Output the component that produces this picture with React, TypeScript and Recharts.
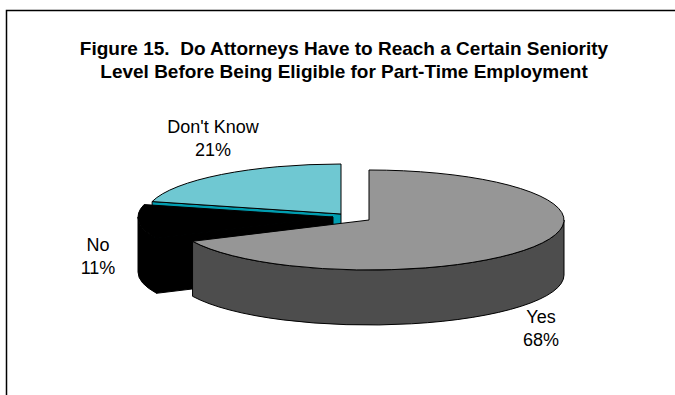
import React from "react";
import { PieChart, Pie } from "recharts";

const categories = ["Don't Know", "No", "Yes"];
const values = [21, 11, 68];
const topColors = ["#6FC8D2", "#000000", "#969696"];
const sideColors = ["#009DB0", "#000000", "#4D4D4D"];
const titleLines = [
  "Figure 15.  Do Attorneys Have to Reach a Certain Seniority",
  "Level Before Being Eligible for Part-Time Employment",
];

const data = categories.map((name, i) => ({ name, value: values[i], fill: topColors[i], side: sideColors[i] }));

// Pie tilt and explosion, presentation only
const SQUASH = 50 / 195;
const DEPTH = 55;
const EXPLODE = [
  { dx: -9, dy: -2 },
  { dx: -17, dy: 1 },
  { dx: 19, dy: 4 },
];
const LABEL_POS = [
  { x: 213, y: 133 },
  { x: 98, y: 251 },
  { x: 541, y: 323 },
];

const rad = (a: number) => (a * Math.PI) / 180;

function Slice3D(props: any) {
  const { cx, cy, outerRadius: r, startAngle, endAngle, fill, side, index } = props;
  const ox = cx + EXPLODE[index].dx;
  const oy = cy + EXPLODE[index].dy;
  const ry = r * SQUASH;
  const pt = (a: number, d = 0) => [ox + r * Math.cos(rad(a)), oy - ry * Math.sin(rad(a)) + d];
  const f = (p: number[]) => `${p[0].toFixed(2)} ${p[1].toFixed(2)}`;
  const arc = (a: number, b: number, d = 0) => {
    const large = Math.abs(b - a) > 180 ? 1 : 0;
    const sweep = b > a ? 0 : 1;
    return `A ${r} ${ry} 0 ${large} ${sweep} ${f(pt(b, d))}`;
  };
  const walls: string[] = [];
  const apex = [ox, oy];
  const apexD = [ox, oy + DEPTH];
  // flat cut faces turned towards the viewer
  if (Math.sin(rad(startAngle - 90)) < -1e-6) {
    walls.push(`M ${f(apex)} L ${f(pt(startAngle))} L ${f(pt(startAngle, DEPTH))} L ${f(apexD)} Z`);
  }
  if (Math.sin(rad(endAngle + 90)) < -1e-6) {
    walls.push(`M ${f(apex)} L ${f(pt(endAngle))} L ${f(pt(endAngle, DEPTH))} L ${f(apexD)} Z`);
  }
  // rounded rim on the front half
  const a0 = Math.max(startAngle, 180);
  const a1 = Math.min(endAngle, 360);
  if (a1 > a0) {
    walls.push(
      `M ${f(pt(a0))} ${arc(a0, a1)} L ${f(pt(a1, DEPTH))} ${arc(a1, a0, DEPTH)} Z`
    );
  }
  const top = `M ${f(apex)} L ${f(pt(startAngle))} ${arc(startAngle, endAngle)} Z`;
  return (
    <g>
      {walls.map((d, i) => (
        <path key={i} d={d} fill={side} stroke="#000" strokeWidth={1} strokeLinejoin="round" />
      ))}
      <path d={top} fill={fill} stroke="#000" strokeWidth={1} strokeLinejoin="round" />
    </g>
  );
}

function SliceLabel(props: any) {
  const { index, name, value } = props;
  const pos = LABEL_POS[index];
  return (
    <text x={pos.x} textAnchor="middle" fontFamily="Liberation Sans" fontSize={18} fill="#000">
      <tspan x={pos.x} y={pos.y}>{name}</tspan>
      <tspan x={pos.x} y={pos.y + 23}>{value}%</tspan>
    </text>
  );
}

export default function App() {
  return (
    <div style={{ position: "absolute", left: 0, top: 0, width: 675, height: 395, background: "#fff" }}>
      <PieChart width={675} height={395} margin={{ top: 0, right: 0, bottom: 0, left: 0 }}>
        <rect x={6.5} y={10.5} width={680} height={400} fill="#fff" stroke="#000" strokeWidth={1.5} />
        <text textAnchor="middle" fontFamily="Liberation Sans" fontWeight="bold" fontSize={19} fill="#000" style={{ whiteSpace: "pre" }}>
          <tspan x={344} y={55}>{titleLines[0]}</tspan>
          <tspan x={344} y={78}>{titleLines[1]}</tspan>
        </text>
        <Pie
          data={data}
          dataKey="value"
          nameKey="name"
          cx={350}
          cy={216}
          outerRadius={195}
          innerRadius={0}
          startAngle={90}
          endAngle={450}
          paddingAngle={0}
          stroke="none"
          isAnimationActive={false}
          shape={Slice3D}
          label={SliceLabel}
          labelLine={false}
        />
      </PieChart>
    </div>
  );
}
